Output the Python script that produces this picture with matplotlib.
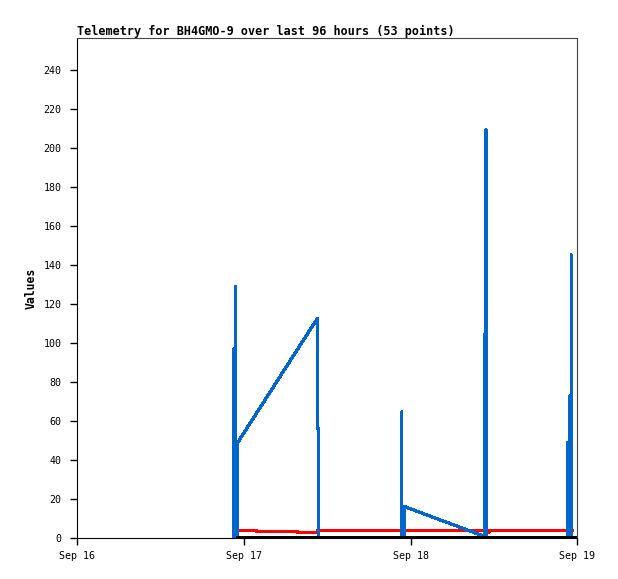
import datetime as dt
import matplotlib
matplotlib.use("Agg")
import matplotlib.pyplot as plt
import matplotlib.dates as mdates

START = dt.datetime(2024, 9, 16)
TITLE = "Telemetry for BH4GMO-9 over last 96 hours (53 points)"

# hours after Sep 16 00:00
blue_hours = [22.49, 22.50, 22.51, 22.63, 22.64, 22.65, 22.78, 22.79, 22.80,
              22.95, 22.96, 22.97, 23.10, 23.11,
              34.60, 34.61, 34.74, 34.75,
              46.73, 46.74, 46.75, 46.86, 46.87, 46.88, 47.16, 47.17,
              58.70, 58.71, 58.72, 58.73, 58.85, 58.86, 58.87,
              70.61, 70.62, 70.63, 70.70, 70.71, 70.72, 70.87, 70.88, 70.89,
              71.13, 71.14, 71.15]
blue_values = [0, 97, 0, 0, 97, 0, 0, 129, 0,
               0, 49, 0, 0, 49,
               112.8, 56.4, 56.4, 0,
               0, 64.8, 0, 0, 16.2, 0, 0, 16.2,
               0.9, 0, 105, 0, 0, 209.4, 0,
               0, 49, 0, 0, 49, 0, 0, 73, 0,
               0, 145.3, 0]

red_hours = [23.2, 25.89, 25.90, 31.71, 31.72, 34.49, 34.62, 58.70, 58.72, 59.28, 59.30, 71.25]
red_values = [4.0, 4.0, 3.4, 3.4, 2.9, 2.9, 4.0, 4.0, 3.2, 3.2, 4.0, 4.0]

black_hours = [23.2, 71.9]
black_values = [0, 0]

y_ticks = list(range(0, 241, 20))


def to_dates(hours):
    return [START + dt.timedelta(hours=h) for h in hours]


def main():
    plt.rcParams["font.family"] = "DejaVu Sans Mono"
    fig = plt.figure(figsize=(6.18, 5.79), dpi=100)
    ax = fig.add_axes([77 / 618, 1 - 538.3 / 579, 500.3 / 618, 500.3 / 579])

    ax.plot(to_dates(red_hours), red_values, color="#ff0000", lw=1.6,
            antialiased=False, zorder=2)
    ax.plot(to_dates(blue_hours), blue_values, color="#0066cc", lw=1.6,
            antialiased=False, zorder=3)
    ax.plot(to_dates(black_hours), black_values, color="black", lw=1.6,
            antialiased=False, zorder=4)

    ax.set_xlim(START, START + dt.timedelta(days=3))
    ax.set_ylim(0, 256.5)
    ax.set_yticks(y_ticks)
    ax.xaxis.set_major_locator(mdates.DayLocator())
    ax.xaxis.set_major_formatter(mdates.DateFormatter("%b %d"))

    ax.tick_params(axis="both", direction="out", length=5, width=1,
                   labelsize=7.2, colors="black")
    ax.tick_params(axis="y", pad=6)
    ax.tick_params(axis="x", pad=4)

    for side in ("left", "bottom"):
        ax.spines[side].set_color("black")
    for side in ("top", "right"):
        ax.spines[side].set_color("#444444")

    ax.set_ylabel("Values", fontsize=8.3, fontweight="bold", labelpad=4)
    ax.set_title(TITLE, loc="left", fontsize=8.45, fontweight="bold", pad=2)

    fig.savefig("out.png", dpi=100)
    plt.close(fig)


if __name__ == "__main__":
    main()
